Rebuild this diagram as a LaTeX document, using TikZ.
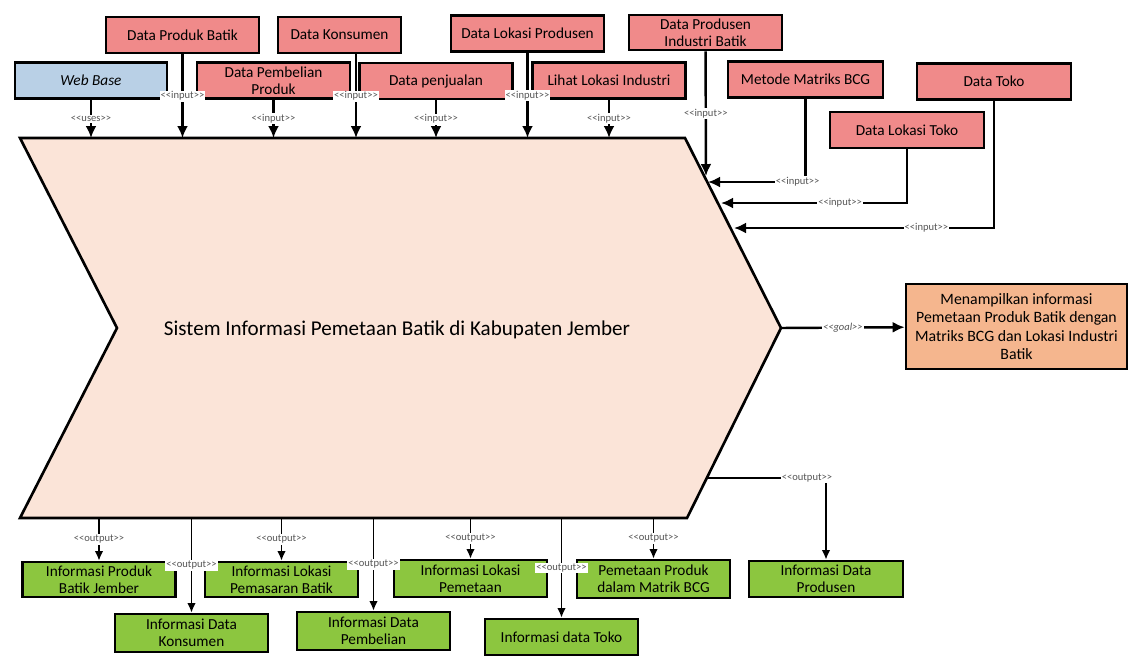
\documentclass[tikz,border=0pt]{standalone}
\usepackage{fontspec}
\setmainfont{Carlito}[Ligatures=TeXOff]
\usetikzlibrary{shapes,arrows,arrows.meta}
\definecolor{inred}{HTML}{F08A8A}
\definecolor{webblue}{HTML}{B9D0E6}
\definecolor{outgreen}{HTML}{8CC63F}
\definecolor{goalpeach}{HTML}{F5B68E}
\definecolor{sysfill}{HTML}{FBE4D8}
\definecolor{tagtext}{HTML}{555555}

\begin{document}
\begin{tikzpicture}[x=0.02cm, y=-0.02cm]
\tikzstyle{box} = [draw, line width=1.5pt, minimum width=3.06cm, minimum height=0.72cm, inner sep=1pt, align=center, font=\fontsize{8.7}{9.5}\selectfont]
\tikzstyle{inbox} = [box, fill=inred]
\tikzstyle{outbox} = [box, fill=outgreen]
\tikzstyle{tag} = [fill=white, inner sep=0.6pt, text=tagtext, font=\fontsize{6}{6}\selectfont]
\tikzstyle{flow} = [-{Latex[length=0.24cm, width=0.22cm]}, line width=1.4pt]
\tikzstyle{outflow} = [-{Latex[length=0.19cm, width=0.17cm]}, line width=1pt]

\useasboundingbox (0,0) rectangle (1136,664);

\draw [line width=1.5pt, fill=sysfill] (20,138) -- (685,138) -- (781,328) -- (687,518) -- (20,518) -- (117,328) -- cycle;
\node (sys) at (397,330) {\fontsize{12}{13}\selectfont Sistem Informasi Pemetaan Batik di Kabupaten Jember};
\coordinate (top) at (0,138);
\coordinate (bot) at (0,518);
\coordinate (tip) at (781,328);
\coordinate (e1) at (706,176);
\coordinate (e2) at (708,182);
\coordinate (e3) at (721,203);
\coordinate (e4) at (734,228);
\coordinate (e5) at (707,478);

\node [inbox] (prodbatik) at (182.5,35) {Data Produk Batik};
\node [inbox, minimum width=2.46cm] (konsumen) at (339.5,35) {Data Konsumen};
\node [inbox] (lokprod) at (527.5,33.5) {Data Lokasi Produsen};
\node [inbox, minimum height=0.7cm] (produsen) at (705.5,32.5) {Data Produsen\\Industri Batik};
\node [box, fill=webblue, minimum width=3.04cm] (webbase) at (91,80.5) {\itshape Web Base};
\node [inbox] (pembelian) at (273.5,80.5) {Data Pembelian\\Produk};
\node [inbox] (penjualan) at (436,81) {Data penjualan};
\node [inbox] (lihat) at (609,80.5) {Lihat Lokasi Industri};
\node [inbox, minimum width=3.1cm] (metode) at (805.5,79.5) {Metode Matriks BCG};
\node [inbox, minimum width=3.08cm] (toko) at (994,81.5) {Data Toko};
\node [inbox, minimum width=3.08cm] (loktoko) at (907,130) {Data Lokasi Toko};

\draw [flow] (webbase) -- (webbase |- top) node [tag, midway] {<<uses>>};
\draw [flow] (prodbatik) -- (prodbatik |- top) node [tag, midway] {<<input>>};
\draw [flow] (pembelian) -- (pembelian |- top) node [tag, midway] {<<input>>};
\draw [flow] ([xshift=0.33cm]konsumen.south) -- ([xshift=0.33cm]konsumen.south |- top) node [tag, midway] {<<input>>};
\draw [flow] (penjualan) -- (penjualan |- top) node [tag, midway] {<<input>>};
\draw [flow] (lokprod) -- (lokprod |- top) node [tag, midway] {<<input>>};
\draw [flow] (lihat) -- (lihat |- top) node [tag, midway] {<<input>>};
\draw [flow] (produsen) -- (e1) node [tag, midway] {<<input>>};
\draw [flow] (metode) |- node [tag, pos=0.54] {<<input>>} (e2);
\draw [flow] (loktoko) |- node [tag, pos=0.68] {<<input>>} (e3);
\draw [flow] (toko) |- node [tag, pos=0.63] {<<input>>} (e4);

\node [box, fill=goalpeach, minimum width=4.42cm, minimum height=1.7cm, font=\fontsize{9}{10.5}\selectfont] (goal) at (1016.5,326.5) {Menampilkan informasi\\Pemetaan Produk Batik dengan\\Matriks BCG dan Lokasi Industri\\Batik};
\draw [flow] (tip) -- (goal) node [tag, midway] {\itshape <<goal>>};

\node [outbox, minimum height=0.7cm] (iproduk) at (99,579.5) {Informasi Produk\\Batik Jember};
\node [outbox, minimum height=0.76cm] (ikonsumen) at (191.5,633) {Informasi Data\\Konsumen};
\node [outbox, minimum height=0.7cm] (ipemasaran) at (281.5,579.5) {Informasi Lokasi\\Pemasaran Batik};
\node [outbox, minimum height=0.76cm] (ipembelian) at (373.5,631) {Informasi Data\\Pembelian};
\node [outbox, minimum height=0.74cm] (ipemetaan) at (470.5,578.5) {Informasi Lokasi\\Pemetaan};
\node [outbox] (itoko) at (561.5,637) {Informasi data Toko};
\node [outbox, minimum height=0.76cm] (imatrik) at (653.5,579) {Pemetaan Produk\\dalam Matrik BCG};
\node [outbox, minimum width=3.08cm] (iprodusen) at (826,579) {Informasi Data\\Produsen};

\draw [outflow] (iproduk |- bot) -- (iproduk) node [tag, midway] {<<output>>};
\draw [outflow] (ikonsumen |- bot) -- (ikonsumen) node [tag, midway] {<<output>>};
\draw [outflow] (ipemasaran |- bot) -- (ipemasaran) node [tag, midway] {<<output>>};
\draw [outflow] (ipembelian |- bot) -- (ipembelian) node [tag, midway] {<<output>>};
\draw [outflow] (ipemetaan |- bot) -- (ipemetaan) node [tag, midway] {<<output>>};
\draw [outflow] (itoko |- bot) -- (itoko) node [tag, midway] {<<output>>};
\draw [outflow] (imatrik |- bot) -- (imatrik) node [tag, midway] {<<output>>};
\draw [outflow] (e5) -| node [tag, pos=0.42] {<<output>>} (iprodusen);
\end{tikzpicture}
\end{document}
